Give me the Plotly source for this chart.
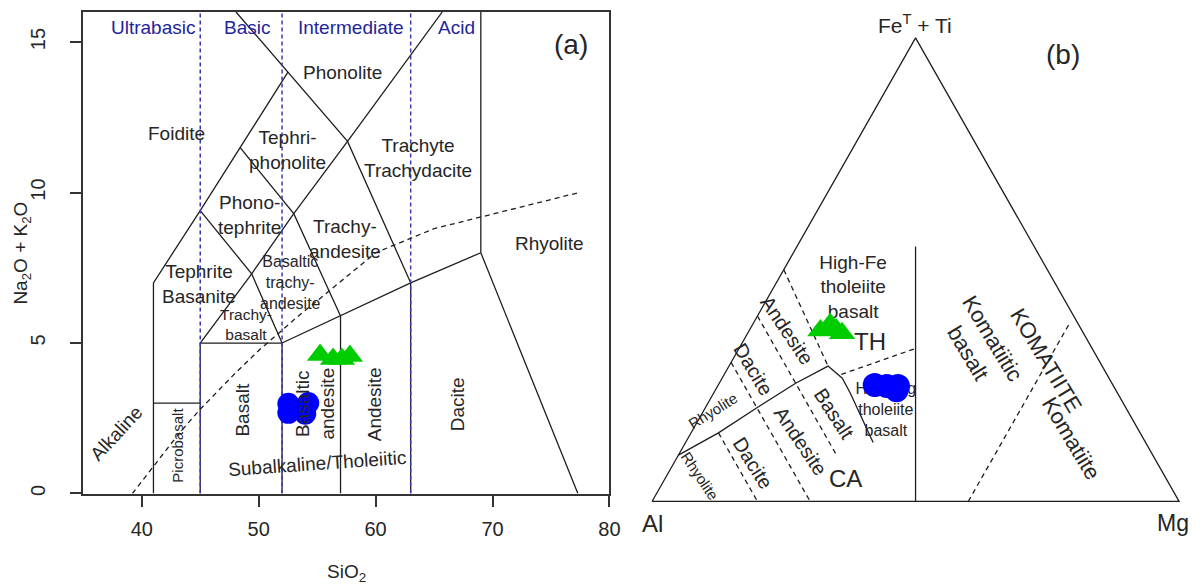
import plotly.graph_objects as go

# ---------------- (a) TAS diagram ----------------
# samples
sio2_basalt = [52.54, 52.54, 54.24, 53.98]
alk_basalt = [2.98, 2.68, 3.01, 2.65]
sio2_andes = [55.25, 56.36, 57.12, 57.8]
alk_andes = [4.60, 4.47, 4.47, 4.57]

# field boundaries (SiO2, Na2O+K2O)
tas_bounds = [
    ([41, 41, 45, 48.4, 52.5], [0, 7, 9.4, 11.5, 14]),
    ([48.06, 52.5, 57.6, 63], [16, 14, 11.7, 7]),
    ([45, 49.4, 53, 57.6, 65.7], [5, 7.3, 9.3, 11.7, 16]),
    ([45, 49.4, 52], [9.4, 7.3, 5]),
    ([48.4, 53, 57], [11.5, 9.3, 5.9]),
    ([41, 45], [3, 3]),
    ([45, 45, 52, 52], [0, 5, 5, 0]),
    ([52, 57, 63, 69], [5, 5.9, 7, 8]),
    ([57, 57], [0, 5.9]),
    ([63, 63], [0, 7]),
    ([69, 69, 77.3], [16, 8, 0]),
]
# Irvine & Baragar alkaline / subalkaline divide
ib_sio2 = [39.2, 40, 43.2, 45, 48, 50, 53.7, 55, 60, 65, 77.4]
ib_alk = [0, 0.4, 2, 2.8, 4, 4.75, 6, 6.4, 8, 8.8, 10]
silica_div = [45, 52, 63]
silica_names = ["Ultrabasic", "Basic", "Intermediate", "Acid"]
silica_pos = [41.0, 49.0, 57.9, 66.9]

# ---------------- (b) Jensen cation plot (Al, Fe+Ti, Mg cation %) ----------------
jal_basalt = [45.2, 43.0, 41.6, 40.9]
jfe_basalt = [25.1, 24.9, 24.0, 24.9]
jmg_basalt = [29.7, 32.1, 34.4, 34.2]
jal_andes = [49.6, 47.1, 46.5, 45.8]
jfe_andes = [36.9, 38.2, 37.1, 36.3]
jmg_andes = [13.5, 14.7, 16.4, 17.9]

# boundaries: (Al, FeTi, Mg, dashed)
jensen_bounds = [
    ([100, 0, 0, 100], [0, 100, 0, 0], [0, 0, 100, 0], False),
    ([90, 80, 70, 60, 52, 50.6, 50.7, 51.7],
     [10, 14.8, 20.2, 25.5, 29.2, 26.6, 23.4, 12.7],
     [0, 5.2, 9.8, 14.5, 18.8, 22.8, 25.9, 35.6], False),
    ([50, 22.5], [0, 55], [50, 22.5], False),
    ([70, 70], [30, 0], [0, 30], True),
    ([60, 60], [40, 10], [0, 30], True),
    ([80, 80], [14.8, 0], [5.2, 20], True),
    ([50, 52], [50, 29.2], [0, 18.8], True),
    ([50.4, 33.5], [27.4, 33], [22.2, 33.5], True),
    ([40, 1.5], [0, 38.5], [60, 60], True),
]


def tern(al, fe, mg):
    xs, ys = [], []
    for a, f, m in zip(al, fe, mg):
        s = a + f + m
        xs.append((m + f / 2) / s)
        ys.append(f / s)
    return xs, ys


LINE = '#1e1e1e'
TXT = '#262626'
BLUE_TXT = '#24249a'
fig = go.Figure()

# (a) lines
for xs, ys in tas_bounds:
    fig.add_trace(go.Scatter(x=xs, y=ys, mode='lines', line=dict(color=LINE, width=1.3), hoverinfo='skip'))
for s in silica_div:
    fig.add_trace(go.Scatter(x=[s, s], y=[0, 16], mode='lines',
                             line=dict(color='#3a3ab0', width=1.5, dash='4px,3px'), hoverinfo='skip'))
fig.add_trace(go.Scatter(x=ib_sio2, y=ib_alk, mode='lines',
                         line=dict(color=LINE, width=1.3, dash='5px,4px'), hoverinfo='skip'))
fig.add_trace(go.Scatter(x=sio2_basalt, y=alk_basalt, mode='markers',
                         marker=dict(symbol='circle', size=22, color='#0000ff')))
fig.add_trace(go.Scatter(x=sio2_andes, y=alk_andes, mode='markers',
                         marker=dict(symbol='triangle-up', size=23, color='#00cd00')))

# (b) lines
for al, fe, mg, dashed in jensen_bounds:
    xs, ys = tern(al, fe, mg)
    fig.add_trace(go.Scatter(x=xs, y=ys, xaxis='x2', yaxis='y2', mode='lines',
                             line=dict(color=LINE, width=1.3, dash='5px,4px' if dashed else 'solid'),
                             hoverinfo='skip'))
# labels that sit under the symbols
fig.add_trace(go.Scatter(x=[0.3816], y=[0.4592], xaxis='x2', yaxis='y2', mode='text',
                         text=['High-Fe<br>tholeiite<br>basalt'],
                         textfont=dict(size=19, color=TXT, family='Liberation Sans, Arial'),
                         hoverinfo='skip'))
fig.add_trace(go.Scatter(x=[0.4436], y=[0.1953], xaxis='x2', yaxis='y2', mode='text',
                         text=['High-Mg<br>tholeiite<br>basalt'],
                         textfont=dict(size=16, color=TXT, family='Liberation Sans, Arial'),
                         hoverinfo='skip'))
bx, by = tern(jal_basalt, jfe_basalt, jmg_basalt)
fig.add_trace(go.Scatter(x=bx, y=by, xaxis='x2', yaxis='y2', mode='markers',
                         marker=dict(symbol='circle', size=24, color='#0000ff')))
ax_, ay_ = tern(jal_andes, jfe_andes, jmg_andes)
fig.add_trace(go.Scatter(x=ax_, y=ay_, xaxis='x2', yaxis='y2', mode='markers',
                         marker=dict(symbol='triangle-up', size=23, color='#00cd00')))

ann = []
labels_a = [
    ("Foidite", 43.0, 11.95, 19, 0),
    ("Phonolite", 57.2, 14.0, 19, 0),
    ("Tephri-<br>phonolite", 52.5, 11.4, 19, 0),
    ("Trachyte<br>Trachydacite", 63.6, 11.16, 19, 0),
    ("Phono-<br>tephrite", 49.2, 9.27, 19, 0),
    ("Trachy-<br>andesite", 57.4, 8.45, 19, 0),
    ("Basaltic<br>trachy-<br>andesite", 52.7, 7.0, 16, 0),
    ("Tephrite<br>Basanite", 44.9, 6.95, 19, 0),
    ("Trachy-<br>basalt", 48.9, 5.63, 15.5, 0),
    ("Rhyolite", 74.9, 8.3, 19, 0),
    ("Basalt", 48.6, 2.8, 19, -90),
    ("Basaltic<br>andesite", 54.8, 2.98, 19, -90),
    ("Andesite", 59.9, 2.98, 19, -90),
    ("Dacite", 67.0, 2.98, 19, -90),
    ("Picrobasalt", 43.1, 1.59, 15, -90),
    ("Alkaline", 37.8, 2.0, 19, -47),
    ("Subalkaline/Tholeiitic", 55.0, 0.99, 19, -4),
    ("(a)", 76.7, 14.93, 28, 0),
]
for t, x, y, sz, ang in labels_a:
    ann.append(dict(text=t, x=x, y=y, xref='x', yref='y', showarrow=False, textangle=ang,
                    xanchor='center', yanchor='middle', font=dict(size=sz, color=TXT)))
for t, x in zip(silica_names, silica_pos):
    ann.append(dict(text=t, x=x, y=15.5, xref='x', yref='y', showarrow=False,
                    xanchor='center', yanchor='middle', font=dict(size=19, color=BLUE_TXT)))

labels_b = [
    ("TH", 0.4135, 0.3455, 24, 0),
    ("CA", 0.3665, 0.0494, 24, 0),
    ("Andesite", 0.2556, 0.3691, 20, 56),
    ("Dacite", 0.1917, 0.2854, 20, 59),
    ("Rhyolite", 0.1165, 0.1953, 15, -32),
    ("Rhyolite", 0.0902, 0.0558, 15, 56),
    ("Dacite", 0.1917, 0.0837, 20, 58),
    ("Andesite", 0.2820, 0.1309, 20, 56),
    ("Basalt", 0.3459, 0.1888, 20, 57),
    ("Komatiitic<br>basalt", 0.6222, 0.3348, 22, 59),
    ("KOMATIITE", 0.7481, 0.3047, 22, 59),
    ("Komatiite", 0.7951, 0.1352, 22, 59),
    ("(b)", 0.7801, 0.9635, 28, 0),
]
for t, x, y, sz, ang in labels_b:
    ann.append(dict(text=t, x=x, y=y, xref='x2', yref='y2', showarrow=False, textangle=ang,
                    xanchor='center', yanchor='middle', font=dict(size=sz, color=TXT)))

paper_labels = [
    ("Al", 650, 518, 24, 0),
    ("Mg", 1176, 518, 23, 0),
    ("Fe<sup>T</sup> + Ti", 915, 16, 21, 0),
    ("SiO<sub>2</sub>", 342, 568, 19, 0),
    ("Na<sub>2</sub>O + K<sub>2</sub>O", 14, 246, 19, -90),
]
for t, px, py, sz, ang in paper_labels:
    ann.append(dict(text=t, x=px / 1200, y=(586 - py) / 586, xref='paper', yref='paper',
                    xanchor='center', yanchor='middle',
                    showarrow=False, textangle=ang, font=dict(size=sz, color=TXT)))

axis_style = dict(ticks='outside', ticklen=12, tickwidth=1.5, tickcolor='#333', showline=True,
                  linecolor='#333', linewidth=1.5, mirror=True, showgrid=False, zeroline=False,
                  tickfont=dict(size=20, color=TXT))

fig.update_layout(
    width=1200, height=586, margin=dict(l=0, r=0, t=0, b=0),
    paper_bgcolor='white', plot_bgcolor='white', showlegend=False,
    font=dict(family='Liberation Sans, Arial, sans-serif', color=TXT),
    xaxis=dict(domain=[76 / 1200, 607 / 1200], range=[35, 80], tickvals=[40, 50, 60, 70, 80],
               ticklabelstandoff=5, **axis_style),
    yaxis=dict(domain=[98 / 586, 582 / 586], range=[0, 16], tickvals=[0, 5, 10, 15], tickangle=-90,
               ticklabelstandoff=17, **axis_style),
    xaxis2=dict(domain=[0.5328, 0.9938], range=[-0.02, 1.02], visible=False, anchor='y2'),
    yaxis2=dict(domain=[0.1377, 0.9647], range=[-0.02, 1.02], visible=False, anchor='x2'),
    annotations=ann,
)

fig.write_html("out.html")
